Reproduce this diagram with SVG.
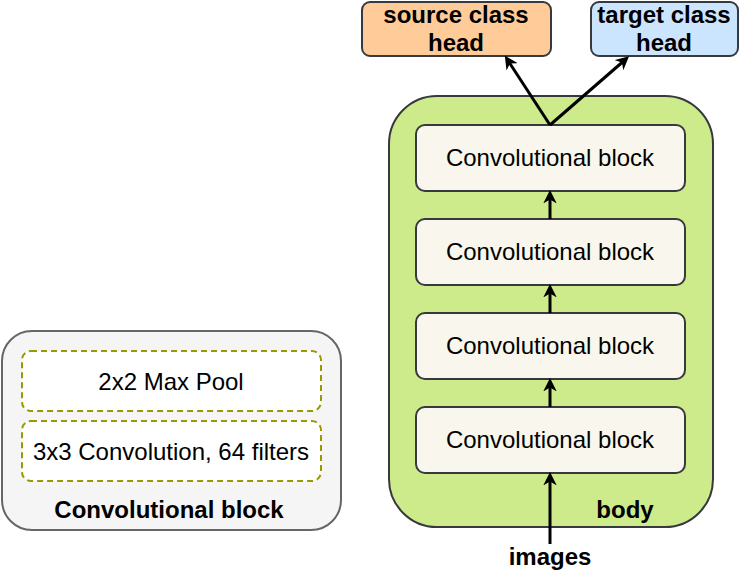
<svg xmlns="http://www.w3.org/2000/svg" width="742" height="584" viewBox="0 0 742 584">
<defs>
<style>
.t{font-family:"Liberation Sans",Arial,sans-serif;font-size:24px;fill:#000;text-anchor:middle}
.b{font-weight:bold}
.blk{fill:#f9f7ed;stroke:#36393d;stroke-width:2}
.dash{fill:#fff;stroke:#999900;stroke-width:2;stroke-dasharray:6 4}
.con{stroke:#000;stroke-width:3;fill:none;marker-end:url(#ah)}
</style>
<marker id="ah" viewBox="0 0 10 10" refX="7" refY="5" markerWidth="4.5" markerHeight="4.5" orient="auto" markerUnits="strokeWidth">
<path d="M0,0 L10,5 L0,10 L3,5 Z" fill="#000"/>
</marker>
</defs>
<g id="legend">
<rect x="2" y="331" width="339" height="199" rx="30" fill="#f5f5f5" stroke="#666" stroke-width="2"/>
<rect class="dash" x="22" y="351" width="299" height="60" rx="9"/>
<text class="t" x="171" y="390">2x2 Max Pool</text>
<rect class="dash" x="22" y="421" width="299" height="60" rx="9"/>
<text class="t" x="171" y="460">3x3 Convolution, 64 filters</text>
<text class="t b" x="169" y="518">Convolutional block</text>
</g>
<g id="body">
<rect x="389" y="96" width="324" height="431" rx="48" fill="#cdeb8b" stroke="#36393d" stroke-width="2"/>
<text class="t b" x="625" y="518">body</text>
</g>
<g id="source-head">
<rect x="362" y="2" width="189" height="54" rx="8" fill="#ffcc99" stroke="#36393d" stroke-width="2"/>
<text class="t b" x="456" y="23">source class</text>
<text class="t b" x="456" y="51">head</text>
</g>
<g id="target-head">
<rect x="591" y="2" width="147" height="54" rx="8" fill="#cce5ff" stroke="#36393d" stroke-width="2"/>
<text class="t b" x="664" y="23">target class</text>
<text class="t b" x="664" y="51">head</text>
</g>
<g id="block4">
<rect class="blk" x="416" y="125" width="269" height="66" rx="9"/>
<text class="t" x="550" y="166">Convolutional block</text>
</g>
<g id="block3">
<rect class="blk" x="416" y="219" width="269" height="66" rx="9"/>
<text class="t" x="550" y="260">Convolutional block</text>
</g>
<g id="block2">
<rect class="blk" x="416" y="313" width="269" height="66" rx="9"/>
<text class="t" x="550" y="354">Convolutional block</text>
</g>
<g id="block1">
<rect class="blk" x="416" y="407" width="269" height="66" rx="9"/>
<text class="t" x="550" y="448">Convolutional block</text>
</g>
<g id="images-label">
<text class="t b" x="550" y="565">images</text>
</g>
<g id="connectors">
<line class="con" x1="550" y1="544" x2="550" y2="476"/>
<line class="con" x1="550" y1="407" x2="550" y2="382"/>
<line class="con" x1="550" y1="313" x2="550" y2="288"/>
<line class="con" x1="550" y1="219" x2="550" y2="194"/>
<line class="con" x1="550" y1="125" x2="507" y2="59"/>
<line class="con" x1="550" y1="125" x2="626" y2="59"/>
</g>
</svg>
